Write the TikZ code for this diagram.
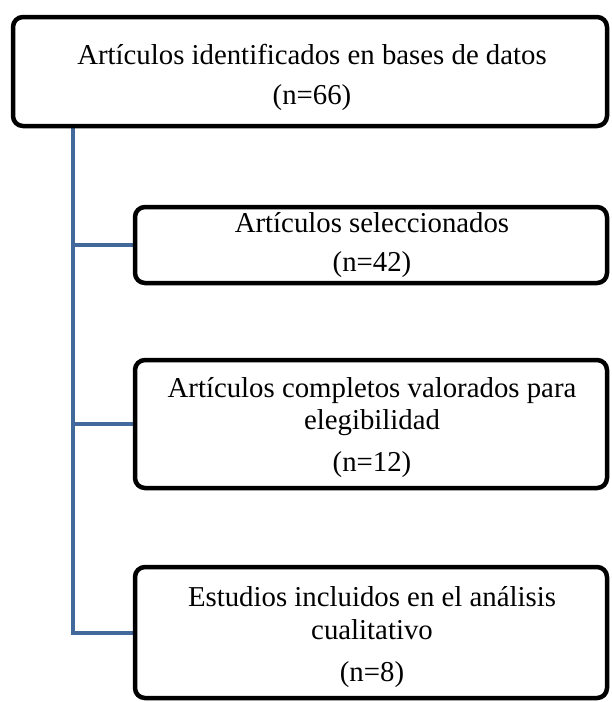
\documentclass[tikz,border=0pt]{standalone}
\usepackage{fontspec}
\setmainfont{Liberation Serif}
\pgfdeclarelayer{background}
\pgfsetlayers{background,main}
\definecolor{trunkblue}{HTML}{43699C}
\tikzset{
  box/.style={draw=black, line width=4.5pt, rounded corners=10pt, fill=white,
              inner sep=0pt, outer sep=0pt},
  lbl/.style={anchor=base, inner sep=0pt, font=\fontsize{28.8}{33}\selectfont},
  conn/.style={draw=trunkblue, line width=4pt, line join=miter}
}
\begin{document}
\begin{tikzpicture}[x=1pt,y=-1pt]
\useasboundingbox (0,0) rectangle (612,702);
% boxes
\node[box, minimum width=594pt, minimum height=109pt] (b1) at (310,71.5) {};
\node[box, minimum width=472pt, minimum height=76pt] (b2) at (371,245) {};
\node[box, minimum width=472pt, minimum height=128pt] (b3) at (371,424) {};
\node[box, minimum width=472pt, minimum height=131pt] (b4) at (371,632.5) {};
% texts
\node[lbl] (t1a) at (312,64.5) {Artículos identificados en bases de datos};
\node[lbl] (t1b) at (312,104.5) {(n=66)};
\node[lbl] (t2a) at (372,232.5) {Artículos seleccionados};
\node[lbl] (t2b) at (372,271.5) {(n=42)};
\node[lbl] (t3a) at (372,397.5) {Artículos completos valorados para};
\node[lbl] (t3b) at (372,429.5) {elegibilidad};
\node[lbl] (t3c) at (372,471.5) {(n=12)};
\node[lbl] (t4a) at (372,606.5) {Estudios incluidos en el análisis};
\node[lbl] (t4b) at (372,639.5) {cualitativo};
\node[lbl] (t4c) at (372,681.5) {(n=8)};
% connectors
\coordinate (trunk) at (b1.south -| 73,0);
\begin{pgfonlayer}{background}
\draw[conn] (trunk) |- (b4.west);
\draw[conn] (trunk |- b2.west) -- (b2.west);
\draw[conn] (trunk |- b3.west) -- (b3.west);
\end{pgfonlayer}
\end{tikzpicture}
\end{document}
